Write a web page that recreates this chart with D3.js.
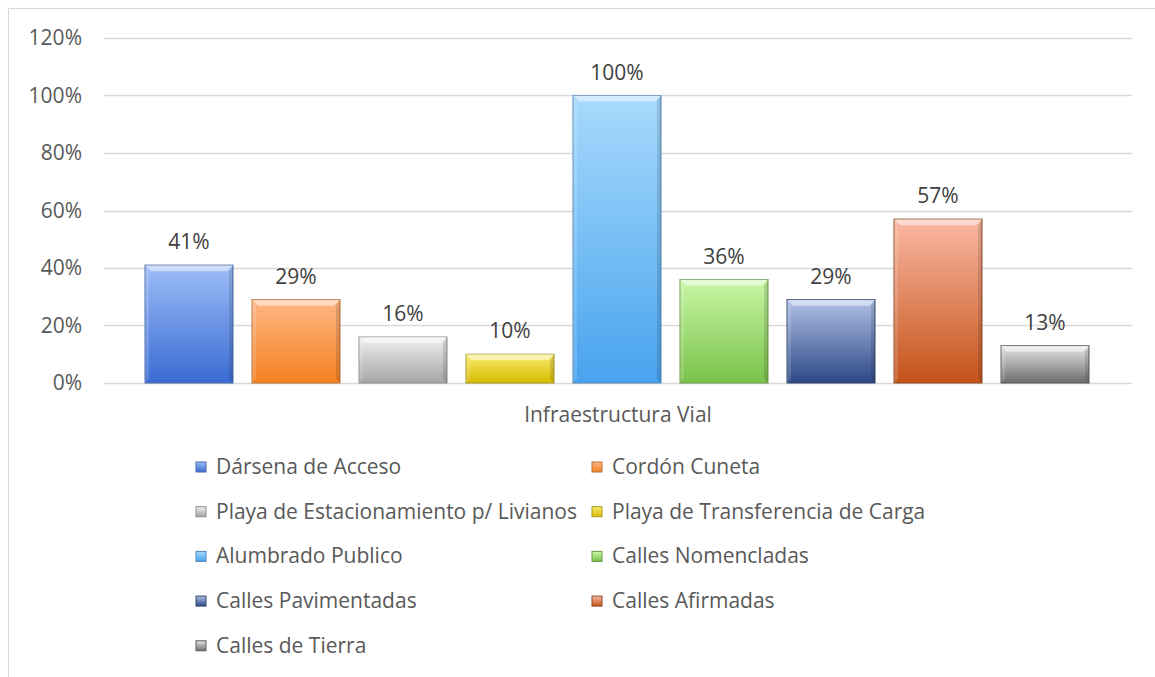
<!DOCTYPE html>
<html><head><meta charset="utf-8">
<script src="https://cdn.jsdelivr.net/npm/d3@7"></script>
<style>
body{margin:0;background:#fff;}
svg{display:block;font-family:"Open Sans","Noto Sans",sans-serif;}
</style></head>
<body><svg id="c" width="1155" height="677"></svg>
<script>
const categories = ["Dársena de Acceso","Cordón Cuneta","Playa de Estacionamiento p/ Livianos","Playa de Transferencia de Carga","Alumbrado Publico","Calles Nomencladas","Calles Pavimentadas","Calles Afirmadas","Calles de Tierra"];
const values = [0.41,0.29,0.16,0.10,1.00,0.36,0.29,0.57,0.13];
const labels = ["41%","29%","16%","10%","100%","36%","29%","57%","13%"];
const yTicks = [0,0.2,0.4,0.6,0.8,1.0,1.2];
const groupName = "Infraestructura Vial";
const colTop = ["#9dbdf7","#ffb685","#f0f0f0","#f8ec6a","#a8dafc","#c8f7a6","#b0c0e6","#fbb8a2","#e6e6e6"];
const colBot = ["#3a6bd3","#f5801f","#a5a5a5","#d8bb00","#48a3ee","#79c148","#2c4886","#c4531a","#6c6c6c"];
const colStroke = ["#4a6aa8","#b8703a","#8e8e8e","#a89a20","#4f88b8","#6a9a4a","#33466e","#8e4a2a","#5a5a5a"];

(function(){
const svg = d3.select("#c");
const defs = svg.append("defs");
const FS = 21;
svg.append("path").attr("d","M8.5,677 V8.5 H1155").attr("fill","none").attr("stroke","#d9d9d9").attr("stroke-width",1);

const pLeft=104, pRight=1132, pTop=38, pBottom=383;
const y = d3.scaleLinear().domain([0,1.2]).range([pBottom,pTop]);
const x = d3.scaleBand().domain(categories).range([145,1089]).paddingInner(19/107).paddingOuter(0);

svg.append("g").selectAll("line").data(yTicks).join("line")
  .attr("x1",pLeft).attr("x2",pRight).attr("y1",d=>Math.round(y(d))+0.5).attr("y2",d=>Math.round(y(d))+0.5)
  .attr("stroke","#d9d9d9").attr("stroke-width",1.5);
const yAxis = d3.axisLeft(y).tickValues(yTicks).tickFormat(d=>Math.round(d*100)+"%").tickSize(0).tickPadding(0);
const ga = svg.append("g").attr("transform",`translate(${pLeft-22},0)`).call(yAxis);
ga.select(".domain").remove();
ga.selectAll("text").attr("font-size",FS).attr("fill","#595959").attr("font-family","'Open Sans',sans-serif");

categories.forEach((c,i)=>{
  const g = defs.append("linearGradient").attr("id","g"+i).attr("x1",0).attr("y1",0).attr("x2",0).attr("y2",1);
  g.append("stop").attr("offset","0%").attr("stop-color",colTop[i]);
  g.append("stop").attr("offset","100%").attr("stop-color",colBot[i]);
});

const bars = svg.append("g").selectAll("g").data(categories).join("g");
bars.append("rect")
  .attr("x",d=>x(d)).attr("y",(d,i)=>y(values[i])).attr("width",x.bandwidth())
  .attr("height",(d,i)=>pBottom-y(values[i]))
  .attr("fill",(d,i)=>`url(#g${i})`).attr("stroke",(d,i)=>colStroke[i]).attr("stroke-width",1);
bars.append("path")
  .attr("d",(d,i)=>{const x0=x(d),w=x.bandwidth(),t=y(values[i]);return `M${x0},${t} H${x0+w} L${x0+w-6},${t+6} H${x0+6} Z`;})
  .attr("fill","#ffffff").attr("opacity",0.5);
bars.append("path")
  .attr("d",(d,i)=>{const x0=x(d),w=x.bandwidth(),t=y(values[i]);return `M${x0+w},${t} V${pBottom} L${x0+w-4},${pBottom-4} V${t+6} Z`;})
  .attr("fill","#000").attr("opacity",0.12);
bars.append("path")
  .attr("d",(d,i)=>{const x0=x(d),t=y(values[i]);return `M${x0},${t} V${pBottom} L${x0+4},${pBottom-4} V${t+6} Z`;})
  .attr("fill","#fff").attr("opacity",0.15);
bars.append("text").attr("x",d=>x(d)+x.bandwidth()/2).attr("y",(d,i)=>y(values[i])-16)
  .attr("text-anchor","middle").attr("font-size",FS).attr("fill","#404040").text((d,i)=>labels[i]);

svg.append("text").attr("x",(pLeft+pRight)/2).attr("y",422).attr("text-anchor","middle")
  .attr("font-size",FS).attr("fill","#595959").text(groupName);

const lx=[196,592], ly0=467, ldy=44.7;
categories.forEach((c,i)=>{
  const col=i%2,row=Math.floor(i/2);
  const gx=lx[col], gy=ly0+row*ldy;
  const lg=defs.append("linearGradient").attr("id","lg"+i).attr("x1",0).attr("y1",0).attr("x2",0).attr("y2",1);
  lg.append("stop").attr("offset","0%").attr("stop-color",colTop[i]);
  lg.append("stop").attr("offset","100%").attr("stop-color",colBot[i]);
  svg.append("rect").attr("x",gx).attr("y",gy-5).attr("width",10).attr("height",10)
    .attr("fill",`url(#lg${i})`).attr("stroke",colStroke[i]).attr("stroke-width",1);
  svg.append("text").attr("x",gx+20).attr("y",gy+7).attr("font-size",FS).attr("fill","#595959").text(c);
});
})();
</script></body></html>
